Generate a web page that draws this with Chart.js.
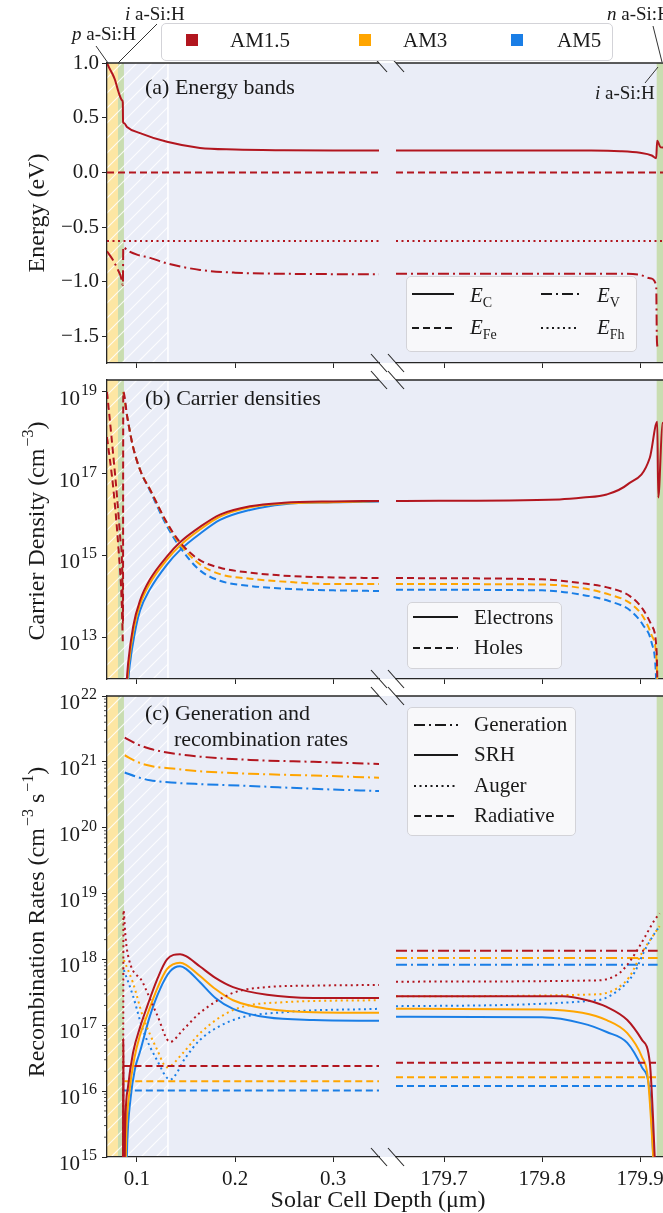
<!DOCTYPE html>
<html>
<head>
<meta charset="utf-8">
<script src="https://cdn.jsdelivr.net/npm/chart.js@4.4.1/dist/chart.umd.min.js"></script>
<style>
  html, body { margin: 0; padding: 0; background: #fff; overflow: hidden; }
  #fig { position: relative; width: 663px; height: 1213px; overflow: hidden;
         font-family: 'Liberation Serif', 'Times New Roman', serif; color: #1a1a1a; }
  #fig canvas { position: absolute; }
  .t { position: absolute; white-space: nowrap; line-height: 1; }
  .f19 { font-size: 19px; } .f21 { font-size: 21px; } .f22 { font-size: 22px; } .f24 { font-size: 24px; }
  .box { position: absolute; box-sizing: border-box; background: rgba(248,248,250,0.92);
         border: 1px solid #d3d3d8; border-radius: 5px; }
  .ytitle { position: absolute; white-space: nowrap; font-size: 24px; line-height: 1;
            transform: translate(-50%, -50%) rotate(-90deg); }
  .sup { font-size: 16px; position: relative; top: -11px; margin-left: 2px; }
  .sub { font-size: 14px; font-style: normal; position: relative; top: 5px; }
  .sq { position: absolute; width: 12px; height: 12px; }
  #overlay { position: absolute; left: 0; top: 0; }
</style>
</head>
<body>
<div id="fig">
  <canvas id="aL" width="400" height="338" style="left:0;top:45px"></canvas>
  <canvas id="aR" width="306" height="338" style="left:384px;top:45px"></canvas>
  <canvas id="bL" width="400" height="337" style="left:0;top:362px"></canvas>
  <canvas id="bR" width="306" height="337" style="left:384px;top:362px"></canvas>
  <canvas id="cL" width="400" height="523" style="left:0;top:678px"></canvas>
  <canvas id="cR" width="306" height="523" style="left:384px;top:678px"></canvas>

  <!-- legend frames -->
  <div class="box" style="left:161px;top:23px;width:452px;height:38px;background:#fff"></div>
  <div class="box" style="left:406px;top:276px;width:231px;height:76px"></div>
  <div class="box" style="left:407px;top:602px;width:155px;height:67px"></div>
  <div class="box" style="left:407px;top:707px;width:169px;height:129px"></div>

  <svg id="overlay" width="663" height="1213">
    <g stroke="#333" stroke-width="1" fill="none">
      <line x1="96" y1="46" x2="108" y2="63"/>
      <line x1="157" y1="24" x2="118" y2="63"/>
      <line x1="653" y1="26" x2="662" y2="62"/>
      <line x1="645" y1="83" x2="658" y2="67"/>
    </g>
    <g stroke="#1a1a1a" stroke-width="2" fill="none">
      <line x1="412" y1="294" x2="454" y2="294"/>
      <line x1="541" y1="294" x2="579" y2="294" stroke-dasharray="11 4 2 4"/>
      <line x1="412" y1="328" x2="454" y2="328" stroke-dasharray="7 4"/>
      <line x1="541" y1="328" x2="579" y2="328" stroke-dasharray="2 3.5"/>
      <line x1="413" y1="617" x2="458" y2="617"/>
      <line x1="413" y1="648" x2="458" y2="648" stroke-dasharray="7 4"/>
      <line x1="414" y1="725" x2="458" y2="725" stroke-dasharray="11 4 2 4"/>
      <line x1="414" y1="755" x2="458" y2="755"/>
      <line x1="414" y1="786" x2="458" y2="786" stroke-dasharray="2 3.5"/>
      <line x1="414" y1="816" x2="458" y2="816" stroke-dasharray="7 4"/>
    </g>
  </svg>

  <!-- illumination legend -->
  <div class="sq" style="left:186px;top:34px;background:#b2161f"></div>
  <div class="t f21" style="left:230px;top:30px">AM1.5</div>
  <div class="sq" style="left:359px;top:34px;background:#ffa500"></div>
  <div class="t f21" style="left:403px;top:30px">AM3</div>
  <div class="sq" style="left:511px;top:34px;background:#1a7ee6"></div>
  <div class="t f21" style="left:557px;top:30px">AM5</div>

  <!-- layer annotations -->
  <div class="t f19" style="left:72px;top:24px"><i>p</i> a-Si:H</div>
  <div class="t f19" style="left:125px;top:4px"><i>i</i> a-Si:H</div>
  <div class="t f19" style="left:607px;top:4px"><i>n</i> a-Si:H</div>
  <div class="t f19" style="left:595px;top:83px"><i>i</i> a-Si:H</div>

  <!-- panel captions -->
  <div class="t f22" style="left:145px;top:76px">(a) Energy bands</div>
  <div class="t f22" style="left:145px;top:387px">(b) Carrier densities</div>
  <div class="t f22" style="left:145px;top:702px">(c) Generation and</div>
  <div class="t f22" style="left:174px;top:728px">recombination rates</div>

  <!-- line-style legends -->
  <div class="t f21" style="left:470px;top:285px"><i>E</i><span class="sub">C</span></div>
  <div class="t f21" style="left:597px;top:285px"><i>E</i><span class="sub">V</span></div>
  <div class="t f21" style="left:470px;top:317px"><i>E</i><span class="sub">Fe</span></div>
  <div class="t f21" style="left:597px;top:317px"><i>E</i><span class="sub">Fh</span></div>
  <div class="t f21" style="left:474px;top:607px">Electrons</div>
  <div class="t f21" style="left:474px;top:637px">Holes</div>
  <div class="t f21" style="left:474px;top:714px">Generation</div>
  <div class="t f21" style="left:474px;top:744px">SRH</div>
  <div class="t f21" style="left:474px;top:775px">Auger</div>
  <div class="t f21" style="left:474px;top:805px">Radiative</div>

  <!-- axis titles -->
  <div class="ytitle" style="left:36px;top:213px">Energy (eV)</div>
  <div class="ytitle" style="left:36px;top:531px">Carrier Density (cm<span class="sup">−3</span>)</div>
  <div class="ytitle" style="left:36px;top:922px">Recombination Rates (cm<span class="sup">−3</span> s<span class="sup">−1</span>)</div>
  <div class="t f24" style="left:378px;top:1187px;transform:translateX(-50%)">Solar Cell Depth (μm)</div>
</div>

<script>
// Depth in µm. Energies in eV, densities in cm^-3, rates in cm^-3 s^-1.
// Each curve is a list of [depth, value] pairs; _L = front segment, _R = rear segment.

// ── (a) energy bands (AM1.5) ─────────────────────────────────────────────
const BAND_EC_L = [[0.0694, 1.0], [0.0720, 0.95], [0.0750, 0.90], [0.0776, 0.845], [0.0810, 0.74],
  [0.0847, 0.66], [0.0855, 0.64], [0.0858, 0.46], [0.0870, 0.45], [0.0898, 0.416], [0.1031, 0.36],
  [0.1306, 0.28], [0.1643, 0.224], [0.2000, 0.21], [0.2500, 0.203], [0.3000, 0.2], [0.3470, 0.2]];
const BAND_EC_R = [[179.651, 0.2], [179.85, 0.2], [179.88, 0.195], [179.90, 0.18], [179.912, 0.155],
  [179.9165, 0.13], [179.9175, 0.29], [179.921, 0.23], [179.951, 0.22]];
const BAND_EFE_L = [[0.0694, 0.0], [0.3470, 0.0]];
const BAND_EFE_R = [[179.651, 0.0], [179.951, 0.0]];
const BAND_EFH_L = [[0.0694, -0.625], [0.3470, -0.625]];
const BAND_EFH_R = [[179.651, -0.625], [179.951, -0.625]];
const BAND_EV_L = [[0.0694, -0.72], [0.0755, -0.80], [0.0806, -0.89], [0.0835, -0.95], [0.0856, -1.03],
  [0.0860, -0.68], [0.0900, -0.71], [0.1000, -0.75], [0.1133, -0.78], [0.1306, -0.83], [0.1643, -0.89],
  [0.2000, -0.915], [0.2500, -0.925], [0.3470, -0.93]];
const BAND_EV_R = [[179.651, -0.925], [179.88, -0.925], [179.90, -0.935], [179.910, -0.965],
  [179.9165, -1.03], [179.9172, -1.52], [179.918, -1.6]];

// ── (b) carrier densities ────────────────────────────────────────────────
const HOLE_AM15_L = [[0.0694, 1.0e19], [0.0740, 7.9e17], [0.0796, 2.8e16], [0.0830, 2.5e15],
  [0.0847, 6.8e14], [0.0857, 2.3e13], [0.0860, 1.0e19], [0.0900, 2.5e18], [0.0959, 4.6e17],
  [0.1040, 1.1e17], [0.1133, 4.1e16], [0.1306, 6.3e15], [0.1439, 2.1e15], [0.1633, 7.9e14],
  [0.1847, 5.0e14], [0.2153, 3.8e14], [0.2600, 3.1e14], [0.3000, 2.9e14], [0.3470, 2.8e14]];
const HOLE_AM15_P = [[0.0694, 7.9e17], [0.0760, 4.0e16], [0.0810, 1.6e15], [0.0845, 6.3e13], [0.0855, 7.9e12]];
const HOLE_AM3_L = [[0.0860, 1.0e19], [0.0900, 2.5e18], [0.0959, 4.6e17], [0.1040, 1.1e17], [0.1133, 4.1e16],
  [0.1306, 6.0e15], [0.1439, 1.9e15], [0.1633, 6.3e14], [0.1847, 3.5e14], [0.2153, 2.7e14],
  [0.2600, 2.2e14], [0.3000, 2.0e14], [0.3470, 2.0e14]];
const HOLE_AM5_L = [[0.0860, 1.0e19], [0.0900, 2.5e18], [0.0959, 4.6e17], [0.1040, 1.1e17], [0.1133, 3.8e16],
  [0.1306, 5.2e15], [0.1439, 1.6e15], [0.1633, 4.5e14], [0.1847, 2.4e14], [0.2153, 1.8e14],
  [0.2600, 1.5e14], [0.3000, 1.4e14], [0.3470, 1.35e14]];
const HOLE_AM15_R = [[179.651, 2.8e14], [179.80, 2.6e14], [179.84, 2.1e14], [179.869, 1.6e14], [179.89, 1.0e14],
  [179.903, 4.8e13], [179.912, 1.9e13], [179.917, 4.3e12], [179.918, 3.2e11]];
const HOLE_AM3_R = [[179.651, 2.0e14], [179.80, 1.95e14], [179.84, 1.6e14], [179.869, 1.1e14], [179.89, 6.8e13],
  [179.903, 3.2e13], [179.912, 1.1e13], [179.917, 2.5e12], [179.918, 3.2e11]];
const HOLE_AM5_R = [[179.651, 1.45e14], [179.80, 1.4e14], [179.84, 1.1e14], [179.869, 7.6e13], [179.89, 4.5e13],
  [179.903, 2.0e13], [179.912, 7.1e12], [179.916, 1.6e12], [179.917, 3.2e11]];
const ELEC_AM15_L = [[0.0885, 4.0e11], [0.0911, 2.5e12], [0.0962, 1.9e13], [0.1031, 7.9e13], [0.1133, 2.6e14],
  [0.1306, 9.5e14], [0.1439, 2.1e15], [0.1643, 5.0e15], [0.1847, 1.0e16], [0.2153, 1.6e16],
  [0.2500, 1.95e16], [0.3000, 2.1e16], [0.3470, 2.15e16]];
const ELEC_AM3_L = [[0.0890, 4.0e11], [0.0916, 2.2e12], [0.0967, 1.6e13], [0.1031, 6.3e13], [0.1133, 2.1e14],
  [0.1306, 7.9e14], [0.1439, 1.74e15], [0.1643, 4.3e15], [0.1847, 8.9e15], [0.2153, 1.5e16],
  [0.2500, 1.86e16], [0.3000, 2.0e16], [0.3470, 2.15e16]];
const ELEC_AM5_L = [[0.0897, 4.0e11], [0.0925, 2.0e12], [0.0977, 1.26e13], [0.1031, 4.5e13], [0.1133, 1.5e14],
  [0.1306, 6.0e14], [0.1439, 1.35e15], [0.1643, 3.4e15], [0.1847, 7.4e15], [0.2153, 1.3e16],
  [0.2500, 1.8e16], [0.3000, 2.0e16], [0.3470, 2.1e16]];
const ELEC_AM15_R = [[179.651, 2.15e16], [179.818, 2.35e16], [179.842, 2.6e16], [179.866, 3.1e16],
  [179.887, 5.4e16], [179.910, 2.45e17], [179.9176, 1.86e18], [179.9186, 2.6e16], [179.923, 1.74e18],
  [179.951, 2.0e18]];

// ── (c) generation and recombination rates ───────────────────────────────
const GEN_AM15_L = [[0.0875, 2.34e21], [0.1000, 1.86e21], [0.1133, 1.58e21], [0.1400, 1.32e21],
  [0.1643, 1.2e21], [0.2153, 1.07e21], [0.2800, 1.0e21], [0.3470, 9.3e20]];
const GEN_AM3_L = [[0.0875, 1.26e21], [0.1000, 1.0e21], [0.1133, 8.7e20], [0.1400, 7.8e20],
  [0.1643, 7.2e20], [0.2153, 6.6e20], [0.2800, 6.2e20], [0.3470, 5.75e20]];
const GEN_AM5_L = [[0.0875, 6.9e20], [0.1000, 5.9e20], [0.1133, 5.25e20], [0.1400, 4.8e20],
  [0.1643, 4.6e20], [0.2153, 4.3e20], [0.2800, 3.9e20], [0.3470, 3.6e20]];
const GEN_AM15_R = [[179.651, 1.35e18], [179.918, 1.35e18]];
const GEN_AM3_R = [[179.651, 1.05e18], [179.918, 1.05e18]];
const GEN_AM5_R = [[179.651, 8.3e17], [179.918, 8.3e17]];

const SRH_AM15_L = [[0.0857, 3.2e14], [0.0859, 6.3e16], [0.0862, 2.5e16], [0.0866, 3.2e14], [0.0872, 3.2e14],
  [0.0878, 2.3e15], [0.0908, 1.15e16], [0.0959, 3.8e16], [0.1031, 9.3e16], [0.1102, 1.9e17],
  [0.1204, 4.9e17], [0.1306, 1.0e18], [0.1439, 1.2e18], [0.1500, 1.12e18], [0.1643, 7.8e17],
  [0.1800, 5.25e17], [0.1980, 3.8e17], [0.2327, 2.9e17], [0.2800, 2.6e17], [0.3470, 2.6e17]];
const SRH_AM3_L = [[0.0880, 3.2e14], [0.0890, 2.0e15], [0.0920, 8.9e15], [0.0970, 3.0e16], [0.1031, 7.1e16],
  [0.1102, 1.4e17], [0.1204, 3.55e17], [0.1306, 7.1e17], [0.1439, 8.9e17], [0.1500, 8.3e17],
  [0.1643, 5.6e17], [0.1800, 3.55e17], [0.1980, 2.4e17], [0.2327, 1.78e17], [0.2800, 1.58e17],
  [0.3470, 1.55e17]];
const SRH_AM5_L = [[0.0888, 3.2e14], [0.0900, 1.6e15], [0.0935, 7.9e15], [0.0980, 2.2e16], [0.1031, 4.0e16],
  [0.1133, 1.4e17], [0.1235, 3.55e17], [0.1337, 6.6e17], [0.1439, 7.9e17], [0.1500, 7.2e17],
  [0.1643, 4.5e17], [0.1800, 2.6e17], [0.1980, 1.78e17], [0.2327, 1.32e17], [0.2800, 1.2e17],
  [0.3470, 1.17e17]];
const SRH_AM15_R = [[179.651, 2.75e17], [179.821, 2.75e17], [179.846, 2.4e17], [179.866, 1.9e17],
  [179.887, 1.2e17], [179.902, 6.0e16], [179.910, 2.7e16], [179.9165, 3.2e14]];
const SRH_AM3_R = [[179.651, 1.78e17], [179.800, 1.74e17], [179.841, 1.55e17], [179.866, 1.2e17],
  [179.887, 7.6e16], [179.902, 3.3e16], [179.908, 1.6e16], [179.9155, 3.2e14]];
const SRH_AM5_R = [[179.651, 1.35e17], [179.800, 1.32e17], [179.841, 1.07e17], [179.866, 7.9e16],
  [179.887, 5.4e16], [179.902, 2.3e16], [179.910, 9.3e15], [179.915, 3.2e14]];

const AUG_AM15_L = [[0.0858, 3.2e14], [0.0862, 5.6e18], [0.0880, 2.5e18], [0.0898, 1.4e18], [0.1061, 4.4e17],
  [0.1204, 1.45e17], [0.1337, 5.6e16], [0.1469, 8.5e16], [0.1643, 1.55e17], [0.1980, 3.1e17],
  [0.2327, 3.8e17], [0.2800, 4.0e17], [0.3470, 4.1e17]];
const AUG_AM3_L = [[0.0866, 9.8e17], [0.0959, 4.4e17], [0.1061, 1.35e17], [0.1204, 4.3e16], [0.1306, 2.3e16],
  [0.1469, 3.8e16], [0.1643, 7.6e16], [0.1980, 1.7e17], [0.2500, 2.24e17], [0.3470, 2.4e17]];
const AUG_AM5_L = [[0.0866, 6.9e17], [0.0959, 2.8e17], [0.1061, 8.5e16], [0.1204, 2.95e16], [0.1337, 1.5e16],
  [0.1500, 3.3e16], [0.1643, 6.0e16], [0.1980, 1.2e17], [0.2500, 1.58e17], [0.3470, 1.78e17]];
const AUG_AM15_R = [[179.651, 4.6e17], [179.856, 4.8e17], [179.879, 6.2e17], [179.892, 1.05e18],
  [179.905, 2.2e18], [179.915, 4.0e18], [179.920, 5.0e18]];
const AUG_AM3_R = [[179.651, 2.75e17], [179.856, 2.95e17], [179.876, 3.6e17], [179.889, 5.4e17],
  [179.902, 1.26e18], [179.915, 2.5e18], [179.920, 3.2e18]];
const AUG_AM5_R = [[179.651, 1.95e17], [179.856, 2.4e17], [179.879, 3.5e17], [179.894, 6.2e17],
  [179.905, 1.4e18], [179.915, 2.5e18], [179.920, 3.2e18]];

const RAD_AM15_L = [[0.0862, 2.4e16], [0.3470, 2.4e16]];
const RAD_AM3_L = [[0.0870, 1.41e16], [0.3470, 1.41e16]];
const RAD_AM5_L = [[0.0866, 1.02e16], [0.3470, 1.02e16]];
const RAD_AM15_R = [[179.651, 2.7e16], [179.917, 2.7e16]];
const RAD_AM3_R = [[179.651, 1.62e16], [179.917, 1.62e16]];
const RAD_AM5_R = [[179.651, 1.2e16], [179.917, 1.2e16]];

// ── axes ────────────────────────────────────────────────────────────────
const DEPTH_L = [0.0694, 0.3469];
const DEPTH_R = [179.651, 179.951];
const DEPTH_TICKS_L = [0.1, 0.2, 0.3];
const DEPTH_TICKS_R = [179.7, 179.8, 179.9];
const ENERGY_RANGE = [-1.74, 1.0];
const ENERGY_TICKS = [-1.5, -1.0, -0.5, 0.0, 0.5, 1.0];
const DENSITY_RANGE = [9.5e11, 1.96e19];
const DENSITY_TICKS = [1e13, 1e15, 1e17, 1e19];
const RATE_RANGE = [1e15, 1e22];
const RATE_TICKS = [1e15, 1e16, 1e17, 1e18, 1e19, 1e20, 1e21, 1e22];

// device layers: p a-Si:H, i a-Si:H (front) and i a-Si:H (rear)
const P_LAYER = [0.0694, 0.0806];
const I_LAYER_FRONT = [0.0806, 0.0867];
const HATCHED_ZONE = [0.0694, 0.1316];
const I_LAYER_REAR = [179.917, 179.951];

// ── styling ─────────────────────────────────────────────────────────────
const FONT = 'Liberation Serif';
const INK = '#1a1a1a';
const SPINE = '#262626';
const PLOT_BG = '#eaedf7';
const RED = '#b2161f', ORANGE = '#ffa500', BLUE = '#1a7ee6';
const YELLOW_LAYER = '#fde6a3', GREEN_LAYER = '#c9ddb1';
const DASH = { solid: [], dashed: [7, 4], dotted: [2, 3.5], dashdot: [11, 4, 2, 4] };

Chart.defaults.font.family = FONT;
Chart.defaults.color = INK;

function line(points, color, style) {
  return {
    data: points.map(([x, y]) => ({ x, y })),
    borderColor: color,
    borderWidth: 2,
    borderDash: DASH[style],
    pointRadius: 0,
    fill: false,
    cubicInterpolationMode: 'monotone',
  };
}

const decor = {
  id: 'decor',
  beforeDraw(chart, _args, o) {
    const { ctx, chartArea: a, scales: { x } } = chart;
    const h = a.bottom - a.top;
    const px = v => Math.max(a.left, Math.min(a.right, x.getPixelForValue(v)));
    ctx.save();
    ctx.fillStyle = PLOT_BG;
    ctx.fillRect(a.left, a.top, a.right - a.left + (o.gap || 0), h);
    (o.layers || []).forEach(l => {
      const x1 = px(l.span[0]), x2 = px(l.span[1]);
      ctx.fillStyle = l.color;
      ctx.fillRect(x1, a.top, x2 - x1, h);
    });
    if (o.hatch) {
      const x1 = px(o.hatch[0]), x2 = px(o.hatch[1]);
      ctx.save();
      ctx.beginPath();
      ctx.rect(x1, a.top, x2 - x1, h);
      ctx.clip();
      ctx.strokeStyle = 'rgba(255,255,255,0.85)';
      ctx.lineWidth = 1.2;
      ctx.beginPath();
      for (let k = x1 - h; k < x2; k += 15) {
        ctx.moveTo(k, a.bottom);
        ctx.lineTo(k + h, a.top);
      }
      ctx.stroke();
      ctx.restore();
      ctx.strokeStyle = '#ffffff';
      ctx.lineWidth = 1.5;
      ctx.beginPath();
      ctx.moveTo(x2, a.top);
      ctx.lineTo(x2, a.bottom);
      ctx.stroke();
    }
    ctx.restore();
  },
  afterDraw(chart, _args, o) {
    const { ctx, chartArea: a } = chart;
    ctx.save();
    ctx.strokeStyle = SPINE;
    ctx.lineWidth = 1.3;
    ctx.beginPath();
    ctx.moveTo(a.left, a.top);
    ctx.lineTo(a.right, a.top);
    ctx.stroke();

    // diagonal break marks on the cut edge
    const bx = o.side === 'left' ? a.right : a.left;
    ctx.lineWidth = 1.1;
    [a.top, a.bottom].forEach(by => {
      ctx.beginPath();
      ctx.moveTo(bx - 8, by - 9);
      ctx.lineTo(bx + 8, by + 9);
      ctx.stroke();
    });

    // power-of-ten labels and minor ticks for the log axes
    if (o.powers) {
      const ys = chart.scales.y;
      ctx.fillStyle = INK;
      ctx.textAlign = 'right';
      ctx.textBaseline = 'alphabetic';
      o.powers.forEach(v => {
        const py = ys.getPixelForValue(v);
        const exp = String(Math.round(Math.log10(v)));
        ctx.font = `16px ${FONT}`;
        const ew = ctx.measureText(exp).width;
        ctx.fillText(exp, 97, py + 3);
        ctx.font = `21px ${FONT}`;
        ctx.fillText('10', 97 - ew - 1, py + 13);
      });
      if (o.minor) {
        ctx.lineWidth = 0.8;
        ctx.beginPath();
        o.powers.slice(0, -1).forEach(d => {
          for (let k = 2; k <= 9; k++) {
            const py = ys.getPixelForValue(k * d);
            ctx.moveTo(a.left - 3, py);
            ctx.lineTo(a.left, py);
          }
        });
        ctx.stroke();
      }
    }
    ctx.restore();
  },
};

function panel(id, side, spec) {
  const left = side === 'left';
  const range = left ? DEPTH_L : DEPTH_R;
  const xticks = left ? DEPTH_TICKS_L : DEPTH_TICKS_R;
  const y = spec.y;
  return new Chart(document.getElementById(id), {
    type: 'line',
    data: { datasets: spec.datasets },
    options: {
      responsive: false,
      animation: false,
      events: [],
      layout: { padding: left ? { left: 0, right: 21, top: 18, bottom: 4 } : { left: 12, right: 0, top: 18, bottom: 4 } },
      plugins: {
        legend: { display: false },
        tooltip: { enabled: false },
        decor: {
          side,
          gap: left ? 17 : 0,
          layers: left
            ? [{ span: P_LAYER, color: YELLOW_LAYER }, { span: I_LAYER_FRONT, color: GREEN_LAYER }]
            : [{ span: I_LAYER_REAR, color: GREEN_LAYER }],
          hatch: left ? HATCHED_ZONE : null,
          powers: left && y.type === 'logarithmic' ? y.ticks : null,
          minor: spec.minor,
        },
      },
      scales: {
        x: {
          type: 'linear',
          min: range[0],
          max: range[1],
          afterBuildTicks: s => { s.ticks = xticks.map(value => ({ value })); },
          afterFit: s => { s.height = spec.xHeight; },
          ticks: {
            display: spec.xLabels,
            font: { family: FONT, size: 21 },
            color: INK,
            padding: 5,
            maxRotation: 0,
            callback: v => v.toFixed(1),
          },
          grid: { display: true, drawOnChartArea: false, drawTicks: true, tickLength: 5, color: SPINE },
          border: { display: true, color: SPINE, width: 1.3 },
        },
        y: {
          type: y.type,
          display: left,
          min: y.range[0],
          max: y.range[1],
          afterBuildTicks: s => { s.ticks = y.ticks.map(value => ({ value })); },
          afterFit: s => { s.width = left ? 107 : 0; },
          ticks: {
            display: y.type === 'linear',
            font: { family: FONT, size: 21 },
            color: INK,
            padding: 3,
            callback: v => (v < 0 ? '\u2212' : '') + Math.abs(v).toFixed(1),
          },
          grid: { display: true, drawOnChartArea: false, drawTicks: true, tickLength: 5, color: SPINE },
          border: { display: true, color: SPINE, width: 1.3 },
        },
      },
    },
    plugins: [decor],
  });
}

const energyAxis = { type: 'linear', range: ENERGY_RANGE, ticks: ENERGY_TICKS };
const densityAxis = { type: 'logarithmic', range: DENSITY_RANGE, ticks: DENSITY_TICKS };
const rateAxis = { type: 'logarithmic', range: RATE_RANGE, ticks: RATE_TICKS };

panel('aL', 'left', {
  y: energyAxis, xLabels: false, xHeight: 16,
  datasets: [
    line(BAND_EC_L, RED, 'solid'), line(BAND_EFE_L, RED, 'dashed'),
    line(BAND_EFH_L, RED, 'dotted'), line(BAND_EV_L, RED, 'dashdot'),
  ],
});
panel('aR', 'right', {
  y: energyAxis, xLabels: false, xHeight: 16,
  datasets: [
    line(BAND_EC_R, RED, 'solid'), line(BAND_EFE_R, RED, 'dashed'),
    line(BAND_EFH_R, RED, 'dotted'), line(BAND_EV_R, RED, 'dashdot'),
  ],
});

panel('bL', 'left', {
  y: densityAxis, xLabels: false, xHeight: 16,
  datasets: [
    line(HOLE_AM15_L, RED, 'dashed'), line(HOLE_AM15_P, RED, 'dashed'),
    line(ELEC_AM15_L, RED, 'solid'),
    line(HOLE_AM3_L, ORANGE, 'dashed'), line(ELEC_AM3_L, ORANGE, 'solid'),
    line(HOLE_AM5_L, BLUE, 'dashed'), line(ELEC_AM5_L, BLUE, 'solid'),
  ],
});
panel('bR', 'right', {
  y: densityAxis, xLabels: false, xHeight: 16,
  datasets: [
    line(ELEC_AM15_R, RED, 'solid'), line(HOLE_AM15_R, RED, 'dashed'),
    line(HOLE_AM3_R, ORANGE, 'dashed'), line(HOLE_AM5_R, BLUE, 'dashed'),
  ],
});

panel('cL', 'left', {
  y: rateAxis, xLabels: true, xHeight: 40, minor: true,
  datasets: [
    line(GEN_AM15_L, RED, 'dashdot'), line(SRH_AM15_L, RED, 'solid'),
    line(AUG_AM15_L, RED, 'dotted'), line(RAD_AM15_L, RED, 'dashed'),
    line(GEN_AM3_L, ORANGE, 'dashdot'), line(SRH_AM3_L, ORANGE, 'solid'),
    line(AUG_AM3_L, ORANGE, 'dotted'), line(RAD_AM3_L, ORANGE, 'dashed'),
    line(GEN_AM5_L, BLUE, 'dashdot'), line(SRH_AM5_L, BLUE, 'solid'),
    line(AUG_AM5_L, BLUE, 'dotted'), line(RAD_AM5_L, BLUE, 'dashed'),
  ],
});
panel('cR', 'right', {
  y: rateAxis, xLabels: true, xHeight: 40,
  datasets: [
    line(GEN_AM15_R, RED, 'dashdot'), line(SRH_AM15_R, RED, 'solid'),
    line(AUG_AM15_R, RED, 'dotted'), line(RAD_AM15_R, RED, 'dashed'),
    line(GEN_AM3_R, ORANGE, 'dashdot'), line(SRH_AM3_R, ORANGE, 'solid'),
    line(AUG_AM3_R, ORANGE, 'dotted'), line(RAD_AM3_R, ORANGE, 'dashed'),
    line(GEN_AM5_R, BLUE, 'dashdot'), line(SRH_AM5_R, BLUE, 'solid'),
    line(AUG_AM5_R, BLUE, 'dotted'), line(RAD_AM5_R, BLUE, 'dashed'),
  ],
});
</script>
</body>
</html>
